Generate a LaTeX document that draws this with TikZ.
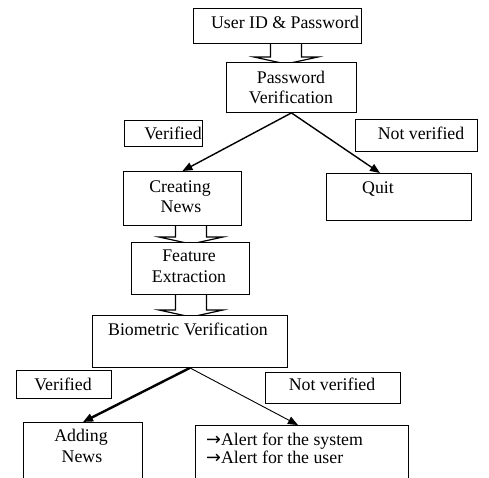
\documentclass[tikz,border=0pt]{standalone}
\usepackage{fontspec}
\setmainfont{Liberation Serif}
\newfontfamily\arrowfont{DejaVu Sans}
\usetikzlibrary{arrows.meta,calc}
\pgfdeclarelayer{back}
\pgfsetlayers{back,main}
% hollow block arrow from the bottom of #1 into the top of #2; #3 = shaft centre x
\newcommand\hollowlink[3]{%
  \draw[hollow] let \p1=(#1.south), \p2=(#2.north) in
    (#3pt-15.5pt,\y1) -- (#3pt-15.5pt,\y2+5pt) -- (#3pt-32pt,\y2+5pt) --
    (#3pt,\y2-2pt) -- (#3pt+32pt,\y2+5pt) -- (#3pt+15.5pt,\y2+5pt) -- (#3pt+15.5pt,\y1);}
\newcommand\bul{{\arrowfont →}}
\begin{document}
\begin{tikzpicture}[x=1pt,y=-1pt,
  box/.style={draw,fill=white,line width=0.9pt,rectangle,inner sep=0pt,anchor=north west},
  txt/.style={inner sep=0pt,anchor=base,font=\fontsize{17.8}{20}\selectfont},
  ltxt/.style={txt,anchor=base west},
  flow/.style={line width=1.4pt,-{Triangle[length=10pt,width=8pt]}},
  hollow/.style={draw,fill=white,line width=1.2pt,line join=miter}]
\useasboundingbox (0,0) rectangle (489,477);
\clip (0,0) rectangle (489,477);

% boxes
\node[box,minimum width=168pt,minimum height=35pt] (uid)   at (193,8)   {};
\node[box,minimum width=130pt,minimum height=50pt] (pw)    at (226,62)  {};
\node[box,minimum width=78pt, minimum height=26pt] (ver1)  at (124,120) {};
\node[box,minimum width=122pt,minimum height=32pt] (nv1)   at (355,119) {};
\node[box,minimum width=118pt,minimum height=54pt] (cn)    at (123,171) {};
\node[box,minimum width=145pt,minimum height=47pt] (quit)  at (326,173) {};
\node[box,minimum width=118pt,minimum height=52pt] (fe)    at (131,242) {};
\node[box,minimum width=195pt,minimum height=52pt] (bio)   at (92,315)  {};
\node[box,minimum width=95pt, minimum height=28pt] (ver2)  at (16,370)  {};
\node[box,minimum width=135pt,minimum height=31pt] (nv2)   at (265,372) {};
\node[box,minimum width=119pt,minimum height=70pt] (add)   at (23,422)  {};
\node[box,minimum width=213pt,minimum height=70pt] (alert) at (195,425) {};

% labels
\node[txt] (uid-t)   at (285,28)  {User ID \& Password};
\node[txt] (pw-t1)   at (291,83)  {Password};
\node[txt] (pw-t2)   at (291,103) {Verification};
\node[txt] (ver1-t)  at (173,139) {Verified};
\node[txt] (nv1-t)   at (421,139) {Not verified};
\node[txt] (cn-t1)   at (180,192) {Creating};
\node[txt] (cn-t2)   at (181,212) {News};
\node[txt] (quit-t)  at (378,193) {Quit};
\node[txt] (fe-t1)   at (189,261) {Feature};
\node[txt] (fe-t2)   at (189,282) {Extraction};
\node[txt] (bio-t)   at (188,335) {Biometric Verification};
\node[txt] (ver2-t)  at (63,390)  {Verified};
\node[txt] (nv2-t)   at (332,390) {Not verified};
\node[txt] (add-t1)  at (81,441)  {Adding};
\node[txt] (add-t2)  at (82,462)  {News};
\node[ltxt] (alert-t1) at (206,445) {\bul Alert for the system};
\node[ltxt] (alert-t2) at (206,463) {\bul Alert for the user};

% decision arrows
\draw[flow] (pw.south) -- (cn.north);
\draw[flow] (pw.south) -- ($(quit.north west)!0.37!(quit.north east)$);
\draw[flow,line width=2.4pt] (bio.south) -- (add.north);
\draw[flow,line width=0.9pt] (bio.south) -- ($(alert.north)+(-4,0)$);

% hollow block arrows behind the boxes
\begin{pgfonlayer}{back}
  \hollowlink{uid}{pw}{286}
  \hollowlink{cn}{fe}{191}
  \hollowlink{fe}{bio}{191}
\end{pgfonlayer}
\end{tikzpicture}
\end{document}
